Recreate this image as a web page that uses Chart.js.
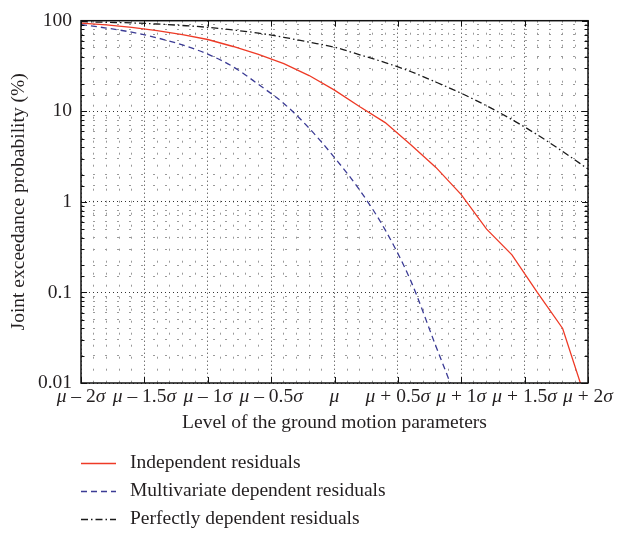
<!DOCTYPE html>
<html>
<head>
<meta charset="utf-8">
<script src="https://cdn.jsdelivr.net/npm/chart.js@4.4.1/dist/chart.umd.min.js"></script>
<style>
  html, body { margin: 0; padding: 0; background: #fff; }
  #wrap { width: 619px; height: 537px; }
</style>
</head>
<body>
<div id="wrap"><canvas id="chart" width="619" height="537"></canvas></div>
<script>
/* ---------- data ---------- */
const sigmaLevels = [-2.0, -1.8, -1.6, -1.4, -1.2, -1.0, -0.8, -0.6, -0.4, -0.2, 0,
                     0.2, 0.4, 0.6, 0.8, 1.0, 1.2, 1.4, 1.6, 1.8, 2.0];

const independentResiduals = [94, 90, 84.5, 77.8, 70.1, 62, 51.9, 42.5, 33.5, 24.8, 17.1,
                              11.2, 7.5, 4.3, 2.4, 1.2, 0.5, 0.26, 0.1, 0.04, 0.0055];

const multivariateResiduals = [90.5, 83, 74.6, 64.7, 54, 42.7, 31, 19.8, 12.2, 6.5, 3.08,
                               1.34, 0.49, 0.136, 0.0255, 0.0049, null, null, null, null, null];

const perfectResiduals = [97.5, 96, 94.5, 92, 88.5, 84.5, 79, 73, 65.5, 58, 51,
                          42, 34.5, 27.5, 21, 15.8, 11.5, 8.1, 5.5, 3.6, 2.3];

const seriesNames = ["Independent residuals", "Multivariate dependent residuals", "Perfectly dependent residuals"];

const xTickLabels = ["\u03bc \u2013 2\u03c3", "\u03bc \u2013 1.5\u03c3", "\u03bc \u2013 1\u03c3", "\u03bc \u2013 0.5\u03c3", "\u03bc",
                     "\u03bc + 0.5\u03c3", "\u03bc + 1\u03c3", "\u03bc + 1.5\u03c3", "\u03bc + 2\u03c3"];
const yTickLabels = ["0.01", "0.1", "1", "10", "100"];

/* ---------- style ---------- */
const FONT = "'Liberation Serif', 'DejaVu Serif', serif";
const FS = 19.5;
const TEXT = "#231f20";
const MAJOR_GRID = "#333";
const MINOR_GRID = "#9a9a9a";

function toPoints(values) {
    return sigmaLevels.map((s, i) => ({ x: s, y: values[i] }));
}

function isDecade(v) {
    const l = Math.log10(v);
    return Math.abs(l - Math.round(l)) < 1e-6;
}

function isHalfSigma(v) {
    return Math.round(v * 10) % 5 === 0;
}

function xLabelFor(v) {
    const k = Math.round(v * 10);
    return k % 5 === 0 ? xTickLabels[(k + 20) / 5] : "";
}

// greek letters in italic, the rest upright
function drawMixedLabel(ctx, text, cx, cy) {
    const parts = [];
    for (const ch of text) {
        const it = ch === "\u03bc" || ch === "\u03c3";
        const last = parts[parts.length - 1];
        if (last && last.it === it) last.s += ch;
        else parts.push({ s: ch, it });
    }
    const fontOf = p => (p.it ? "italic " : "") + FS + "px " + FONT;
    let w = 0;
    parts.forEach(p => { ctx.font = fontOf(p); w += ctx.measureText(p.s).width; });
    let x = cx - w / 2;
    parts.forEach(p => {
        ctx.font = fontOf(p);
        ctx.fillText(p.s, x, cy);
        x += ctx.measureText(p.s).width;
    });
}

/* box, inner tick marks, x labels and the legend underneath */
const frameAndLegend = {
    id: "frameAndLegend",
    afterDatasetsDraw(chart) {
        const { ctx, chartArea: a, scales } = chart;
        ctx.save();
        ctx.strokeStyle = "#111";
        ctx.lineWidth = 1;
        ctx.setLineDash([]);

        // y ticks on left and right
        scales.y.ticks.forEach(t => {
            const y = Math.round(scales.y.getPixelForValue(t.value)) + 0.5;
            const len = isDecade(t.value) ? 6 : 3.5;
            ctx.beginPath();
            ctx.moveTo(a.left, y); ctx.lineTo(a.left + len, y);
            ctx.moveTo(a.right, y); ctx.lineTo(a.right - len, y);
            ctx.stroke();
        });
        // x ticks on bottom and top
        scales.x.ticks.forEach(t => {
            if (!isHalfSigma(t.value)) return;
            const x = Math.round(scales.x.getPixelForValue(t.value)) + 0.5;
            ctx.beginPath();
            ctx.moveTo(x, a.bottom); ctx.lineTo(x, a.bottom - 6);
            ctx.moveTo(x, a.top); ctx.lineTo(x, a.top + 6);
            ctx.stroke();
        });

        ctx.lineWidth = 1.5;
        ctx.strokeRect(a.left, a.top, a.right - a.left, a.bottom - a.top);

        // x tick labels
        ctx.fillStyle = TEXT;
        ctx.textBaseline = "middle";
        ctx.textAlign = "left";
        scales.x.ticks.forEach(t => {
            const lab = xLabelFor(t.value);
            if (lab) drawMixedLabel(ctx, lab, scales.x.getPixelForValue(t.value), a.bottom + 14);
        });

        // legend
        const rowY = [463, 491, 519];
        ctx.font = FS + "px " + FONT;
        chart.data.datasets.forEach((ds, i) => {
            const y = rowY[i] + 0.5;
            ctx.strokeStyle = ds.borderColor;
            ctx.lineWidth = ds.borderWidth;
            ctx.setLineDash(ds.borderDash || []);
            ctx.beginPath();
            ctx.moveTo(a.left, y);
            ctx.lineTo(a.left + 35, y);
            ctx.stroke();
            ctx.fillText(ds.label, a.left + 49, rowY[i]);
        });
        ctx.restore();
    }
};

new Chart(document.getElementById("chart"), {
    type: "line",
    data: {
        datasets: [
            {
                label: seriesNames[0],
                data: toPoints(independentResiduals),
                borderColor: "#ee3a26",
                borderWidth: 1.3
            },
            {
                label: seriesNames[1],
                data: toPoints(multivariateResiduals),
                borderColor: "#3b3b95",
                borderWidth: 1.3,
                borderDash: [6, 4],
                cubicInterpolationMode: "monotone"
            },
            {
                label: seriesNames[2],
                data: toPoints(perfectResiduals),
                borderColor: "#1a1a1a",
                borderWidth: 1.3,
                borderDash: [7, 3, 1.5, 3],
                cubicInterpolationMode: "monotone"
            }
        ]
    },
    options: {
        responsive: false,
        animation: false,
        events: [],
        elements: { point: { radius: 0 } },
        layout: { padding: { left: 0, right: 31, top: 14, bottom: 100 } },
        plugins: {
            legend: { display: false },
            tooltip: { enabled: false }
        },
        scales: {
            x: {
                type: "linear",
                min: -2,
                max: 2,
                afterFit(scale) { scale.height = 54; },
                border: {
                    display: false,
                    dash: ctx => isHalfSigma(ctx.tick.value) ? [1, 3] : [2, 10]
                },
                grid: {
                    drawTicks: false,
                    lineWidth: 1,
                    color: ctx => isHalfSigma(ctx.tick.value) ? MAJOR_GRID : MINOR_GRID
                },
                ticks: {
                    stepSize: 0.1,
                    autoSkip: false,
                    maxRotation: 0,
                    minRotation: 0,
                    padding: 3,
                    color: "rgba(0,0,0,0)",   // drawn by the plugin with italic greek letters
                    font: { family: FONT, size: FS },
                    callback: v => xLabelFor(v)
                },
                title: {
                    display: true,
                    text: "Level of the ground motion parameters",
                    color: TEXT,
                    font: { family: FONT, size: FS },
                    padding: { top: 0, bottom: 2 }
                }
            },
            y: {
                type: "logarithmic",
                min: 0.01,
                max: 100,
                afterFit(scale) { scale.width = 81; },
                border: {
                    display: false,
                    dash: ctx => isDecade(ctx.tick.value) ? [1, 3] : [2, 10]
                },
                grid: {
                    drawTicks: false,
                    lineWidth: 1,
                    color: ctx => isDecade(ctx.tick.value) ? MAJOR_GRID : MINOR_GRID
                },
                ticks: {
                    autoSkip: false,
                    padding: 9,
                    color: TEXT,
                    font: { family: FONT, size: FS },
                    callback: v => isDecade(v) ? yTickLabels[Math.round(Math.log10(v)) + 2] : ""
                },
                title: {
                    display: true,
                    text: "Joint exceedance probability (%)",
                    color: TEXT,
                    font: { family: FONT, size: FS },
                    padding: { top: 7, bottom: 0 }
                }
            }
        }
    },
    plugins: [frameAndLegend]
});
</script>
</body>
</html>
